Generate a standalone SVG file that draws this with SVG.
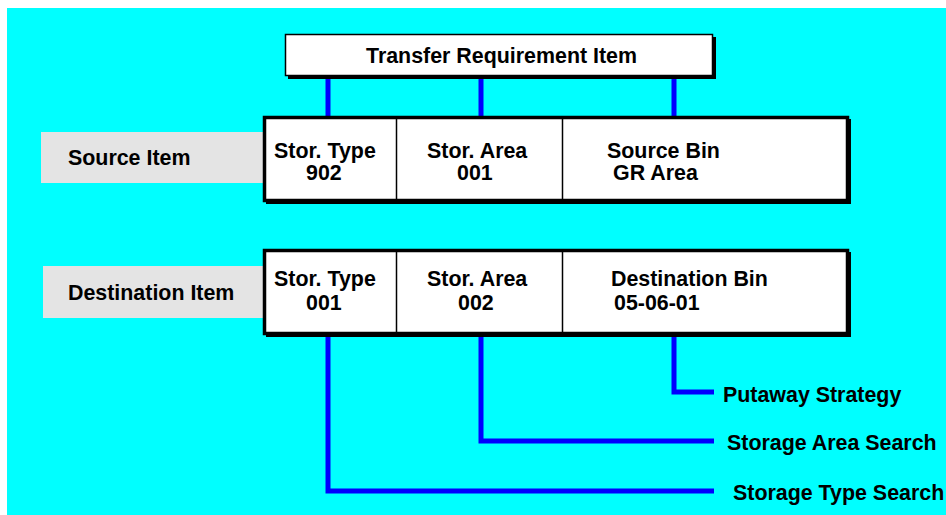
<svg xmlns="http://www.w3.org/2000/svg" width="946" height="515" viewBox="0 0 946 515">
<style>
text{font-family:"Liberation Sans",Arial,sans-serif;font-weight:bold;font-size:21.4px;fill:#000}
.lbl{fill:#e4e4e4}
.box{fill:#fff;stroke:#000;stroke-width:3.5}
.div{stroke:#000;stroke-width:1.5}
.conn{fill:none;stroke:#0000ff;stroke-width:5}
</style>
<rect x="0" y="0" width="946" height="515" fill="#fff"/>
<rect x="7" y="8" width="939" height="507" fill="#00ffff"/>
<g id="connectors">
<path class="conn" d="M328,76V118M481,76V118M674,76V118"/>
<path class="conn" d="M674,334V392H714"/>
<path class="conn" d="M481,334V441H714"/>
<path class="conn" d="M328,334V491H714"/>
</g>
<g id="transfer">
<rect x="288" y="37" width="428" height="42" fill="#000"/>
<rect x="285.5" y="34.5" width="427" height="41" fill="#fff" stroke="#000" stroke-width="1.5"/>
<text x="366" y="63" textLength="271" lengthAdjust="spacingAndGlyphs">Transfer Requirement Item</text>
</g>
<g id="source-label">
<rect class="lbl" x="41" y="132" width="222" height="51"/>
<text x="68" y="165">Source Item</text>
</g>
<g id="source-item">
<rect x="266" y="119" width="585" height="85" fill="#000"/>
<rect class="box" x="264.5" y="117.5" width="583" height="83"/>
<path class="div" d="M396.5,118V201M562.5,118V201"/>
<text x="274" y="158">Stor. Type</text>
<text x="306" y="180">902</text>
<text x="427" y="158">Stor. Area</text>
<text x="457" y="180">001</text>
<text x="607" y="158">Source Bin</text>
<text x="613" y="180">GR Area</text>
</g>
<g id="destination-label">
<rect class="lbl" x="43" y="266" width="220" height="52"/>
<text x="68" y="300">Destination Item</text>
</g>
<g id="destination-item">
<rect x="266" y="252" width="585" height="85" fill="#000"/>
<rect class="box" x="264.5" y="250.5" width="583" height="83"/>
<path class="div" d="M396.5,251V334M562.5,251V334"/>
<text x="274" y="286">Stor. Type</text>
<text x="306" y="310">001</text>
<text x="427" y="286">Stor. Area</text>
<text x="458" y="310">002</text>
<text x="611" y="286">Destination Bin</text>
<text x="614" y="310">05-06-01</text>
</g>
<g id="putaway">
<text x="723" y="402">Putaway Strategy</text>
</g>
<g id="area-search">
<text x="727" y="450">Storage Area Search</text>
</g>
<g id="type-search">
<text x="733" y="500">Storage Type Search</text>
</g>
</svg>
